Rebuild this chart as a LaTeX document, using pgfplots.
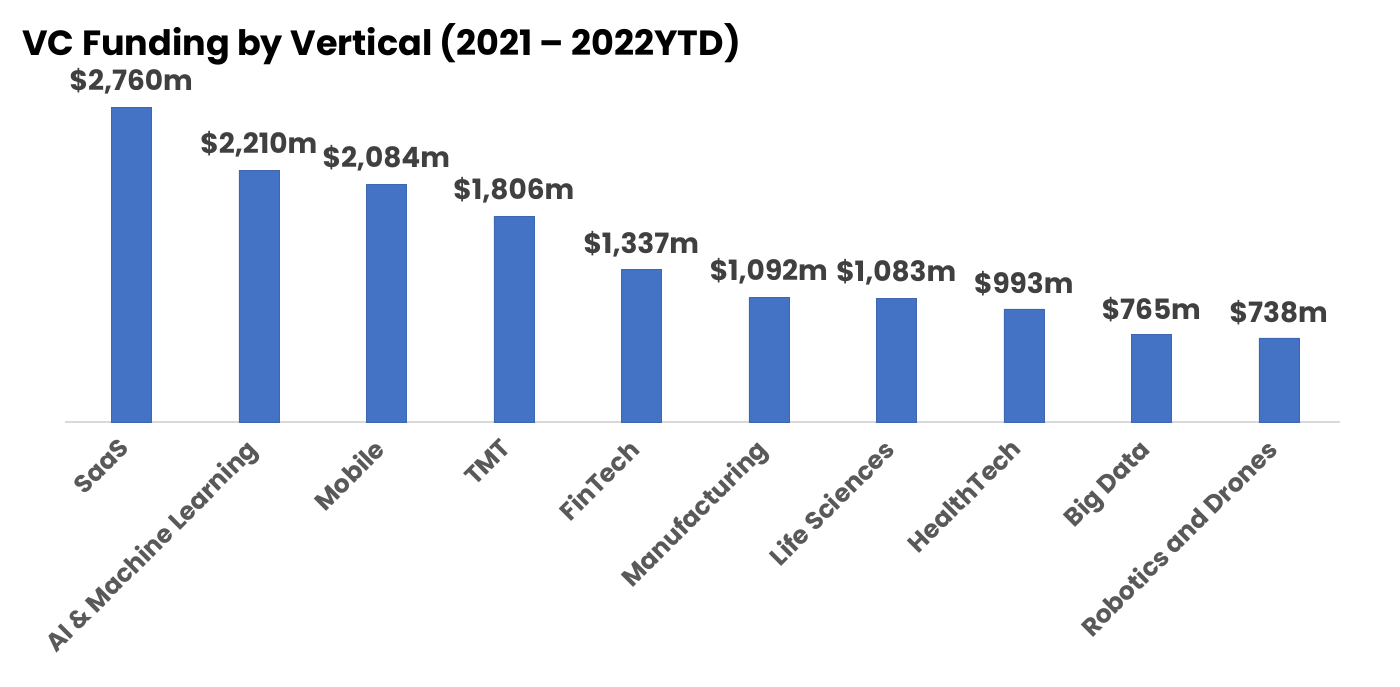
\documentclass[border=0pt]{standalone}
\usepackage{fontspec}
\setmainfont{Poppins}
\usepackage{pgfplots}
\pgfplotsset{compat=1.18}
\definecolor{barblue}{HTML}{4472C4}
\definecolor{lbl}{HTML}{404040}
\definecolor{tick}{HTML}{595959}
\definecolor{axisgray}{HTML}{D9D9D9}
\begin{document}
\begin{tikzpicture}[x=1pt,y=1pt]
\path[use as bounding box] (-32.5,-132) rectangle (667.5,211);
\begin{axis}[
  at={(0,0)}, anchor=south west,
  scale only axis,
  width=637.5pt, height=171pt,
  xmin=-0.52, xmax=9.48, ymin=0, ymax=3000,
  axis x line=bottom, axis y line=none,
  axis line style={axisgray, line width=0.8pt, -},
  x axis line style={-},
  xtick={0,...,9},
  xticklabels={SaaS,AI \& Machine Learning,Mobile,TMT,FinTech,Manufacturing,Life Sciences,HealthTech,Big Data,Robotics and Drones},
  major tick length=0pt,
  xticklabel style={xshift=-7pt, yshift=-6pt, rotate=45, anchor=north east, font=\fontsize{12.5}{14}\selectfont\bfseries, text=tick, inner sep=1pt},
  ytick=\empty,
  clip=false,
  /pgf/number format/assume math mode=true,
]
\addplot[ybar, bar width=20pt, fill=barblue, draw=barblue!90!black, line width=0.3pt,
  nodes near coords={\$\pgfmathprintnumber[1000 sep={,}]{\pgfplotspointmeta}m},
  every node near coord/.append style={font=\fontsize{14}{16}\selectfont\bfseries, text=lbl, anchor=south, yshift=3pt, /pgf/number format/assume math mode=true},
] coordinates {
(0,2760) (1,2210) (2,2084) (3,1806) (4,1337) (5,1092) (6,1083) (7,993) (8,765) (9,738)
};
\end{axis}
\node[anchor=base west, inner sep=0pt, font=\fontsize{17.5}{21}\selectfont\bfseries] at (-21.5,183) {VC Funding by Vertical (2021 – 2022YTD)};
\end{tikzpicture}
\end{document}
